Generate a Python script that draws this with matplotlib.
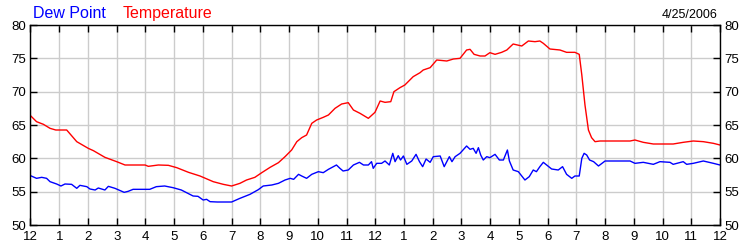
import matplotlib
matplotlib.use("Agg")
import matplotlib.pyplot as plt

# hours since midnight
temp_hours = [0, 0.21, 0.45, 0.68, 0.88, 1.26, 1.61, 2.01, 2.19, 2.59, 3.0, 3.29, 3.99,
              4.1, 4.45, 4.8, 5.09, 5.5, 5.9, 6.36, 6.71, 7.0, 7.29, 7.52, 7.81, 8.05,
              8.34, 8.63, 8.86, 9.09, 9.27, 9.44, 9.61, 9.79, 9.96, 10.19, 10.37, 10.6,
              10.83, 11.06, 11.24, 11.47, 11.76, 11.99, 12.17, 12.34, 12.54, 12.65, 12.86,
              13.03, 13.32, 13.56, 13.67, 13.91, 14.14, 14.49, 14.72, 14.95, 15.18, 15.3,
              15.44, 15.65, 15.82, 15.99, 16.17, 16.4, 16.58, 16.8, 17.1, 17.33, 17.56,
              17.73, 17.85, 18.08, 18.43, 18.66, 18.95, 19.1, 19.19, 19.3, 19.42, 19.53,
              19.65, 19.82, 20.06, 20.87, 21.04, 21.33, 21.68, 22.37, 22.72, 23.07, 23.42,
              23.77, 24.0]
temperature = [66.4, 65.5, 65.1, 64.5, 64.25, 64.25, 62.5, 61.5, 61.15, 60.15, 59.5, 59.0, 59.0,
               58.8, 59.0, 58.95, 58.6, 57.9, 57.35, 56.5, 56.1, 55.85, 56.25, 56.75, 57.15, 57.85,
               58.65, 59.35, 60.25, 61.25, 62.5, 63.1, 63.5, 65.25, 65.75, 66.15, 66.5, 67.5,
               68.15, 68.35, 67.25, 66.75, 66.0, 66.9, 68.6, 68.4, 68.5, 70.0, 70.6,
               71.0, 72.25, 72.85, 73.25, 73.6, 74.75, 74.6, 74.9, 75.0, 76.25, 76.35,
               75.6, 75.35, 75.35, 75.85, 75.6, 75.9, 76.25, 77.15, 76.85, 77.6, 77.5,
               77.6, 77.25, 76.4, 76.25, 75.9, 75.9, 75.6, 72.5, 68.0, 64.25, 63.1,
               62.5, 62.6, 62.6, 62.6, 62.75, 62.4, 62.15, 62.15, 62.4, 62.6, 62.5,
               62.25, 62.0]

dew_hours = [0, 0.21, 0.39, 0.56, 0.68, 0.91, 1.06, 1.2, 1.43, 1.61, 1.72, 1.96, 2.07, 2.25,
             2.36, 2.59, 2.71, 2.94, 3.26, 3.4, 3.57, 4.15, 4.38, 4.67, 4.96, 5.25, 5.48,
             5.66, 5.83, 6.01, 6.13, 6.25, 6.5, 7.0, 7.29, 7.64, 7.93, 8.1, 8.4, 8.63,
             8.86, 9.04, 9.16, 9.33, 9.44, 9.61, 9.79, 10.02, 10.19, 10.37, 10.54, 10.65,
             10.77, 10.88, 11.06, 11.24, 11.45, 11.59, 11.76, 11.87, 11.93, 12.05, 12.22,
             12.34, 12.49, 12.61, 12.69, 12.8, 12.88, 12.98, 13.1, 13.27, 13.42, 13.54,
             13.65, 13.77, 13.91, 14.02, 14.26, 14.4, 14.58, 14.67, 14.78, 14.95, 15.18,
             15.3, 15.41, 15.51, 15.59, 15.67, 15.76, 15.88, 15.99, 16.17, 16.32, 16.46,
             16.6, 16.67, 16.8, 16.98, 17.21, 17.36, 17.5, 17.61, 17.73, 17.85, 18.14,
             18.37, 18.52, 18.66, 18.84, 18.95, 19.1, 19.19, 19.27, 19.36, 19.46, 19.6,
             19.77, 20.0, 20.87, 21.04, 21.33, 21.68, 21.91, 22.26, 22.37, 22.72, 22.84,
             23.07, 23.42, 23.77, 24.0]
dew_point = [57.4, 57.0, 57.15, 57.0, 56.5, 56.15, 55.85, 56.15, 56.1, 55.5, 55.95, 55.75, 55.4, 55.25,
             55.55, 55.25, 55.8, 55.5, 54.9, 55.05, 55.35, 55.35, 55.75, 55.85, 55.6, 55.25, 54.75,
             54.35, 54.3, 53.75, 53.85, 53.5, 53.45, 53.45, 54.0, 54.6, 55.3, 55.85, 56.0, 56.25,
             56.75, 57.0, 56.85, 57.6, 57.35, 57.0, 57.6, 58.0, 57.85, 58.35, 58.75, 59.0,
             58.5, 58.1, 58.25, 59.0, 59.4, 59.0, 59.0, 59.5, 58.5, 59.25, 59.25,
             59.6, 59.0, 60.75, 59.5, 60.4, 59.75, 60.35, 59.1, 59.6, 60.6, 59.5,
             58.75, 59.9, 59.4, 60.25, 60.35, 58.75, 60.25, 59.5, 60.25, 60.75, 61.85,
             61.35, 61.5, 60.75, 61.6, 60.5, 59.75, 60.25, 60.1, 60.6, 59.75, 59.75,
             61.25, 59.6, 58.25, 58.0, 56.75, 57.25, 58.25, 58.0, 58.75, 59.4, 58.4,
             58.25, 58.75, 57.6, 57.0, 57.35, 57.35, 60.0, 60.75, 60.5, 59.75, 59.5,
             58.85, 59.6, 59.6, 59.25, 59.4, 59.1, 59.5, 59.4, 59.1, 59.5, 59.1,
             59.25, 59.6, 59.25, 59.0]

hour_labels = ["12", "1", "2", "3", "4", "5", "6", "7", "8", "9", "10", "11"] * 2 + ["12"]
y_ticks = [50, 55, 60, 65, 70, 75, 80]
date_text = "4/25/2006"

plt.rcParams['font.family'] = ['Liberation Sans', 'DejaVu Sans']

fig = plt.figure(figsize=(7.5, 2.5), dpi=100)
ax = fig.add_axes([30.5 / 750, 0.1, (720 - 30.5) / 750, 0.8])

ax.plot(temp_hours, temperature, color="#ff0000", lw=1.0)
ax.plot(dew_hours, dew_point, color="#0000ff", lw=1.0)

ax.set_xlim(0, 24)
ax.set_ylim(50, 80)
ax.set_xticks(range(25))
ax.set_xticklabels(hour_labels)
ax.set_yticks(y_ticks)
ax.grid(True, color="#cccccc", lw=1.0)
ax.set_axisbelow(True)
for s in ax.spines.values():
    s.set_color("black")
    s.set_linewidth(1.0)

ax.tick_params(axis="both", direction="in", length=5, width=1, labelsize=9.5,
               top=True, right=True, labelright=True, pad=3)
ax.tick_params(axis="x", pad=4)

fig.text(33 / 750, 1 - 18 / 250, "Dew Point", color="#0000ff", fontsize=11.5, va="baseline")
fig.text(123 / 750, 1 - 18 / 250, "Temperature", color="#ff0000", fontsize=11.5, va="baseline")
fig.text(718 / 750, 1 - 18 / 250, date_text, color="black", fontsize=9, ha="right", va="baseline")

fig.savefig("out.png", dpi=100)
